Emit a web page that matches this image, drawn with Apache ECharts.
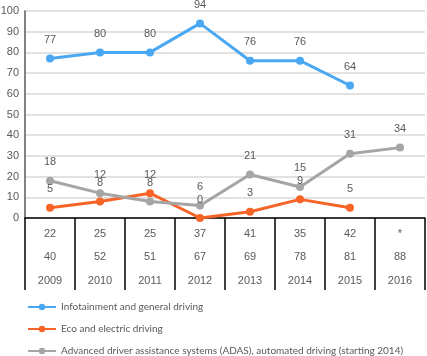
<!DOCTYPE html>
<html>
<head>
<meta charset="utf-8">
<script src="https://cdn.jsdelivr.net/npm/echarts@6/dist/echarts.min.js"></script>
<style>
  html, body { margin: 0; padding: 0; background: #fff; }
  #chart { width: 427px; height: 356px; }
</style>
</head>
<body>
<div id="chart"></div>
<script>
var years = ['2009', '2010', '2011', '2012', '2013', '2014', '2015', '2016'];
var row1 = ['22', '25', '25', '37', '41', '35', '42', '*'];
var row2 = ['40', '52', '51', '67', '69', '78', '81', '88'];
var infotainment = [77, 80, 80, 94, 76, 76, 64, '-'];
var eco = [5, 8, 12, 0, 3, 9, 5, '-'];
var adas = [18, 12, 8, 6, 21, 15, 31, 34];
var seriesNames = [
    'Infotainment and general driving',
    'Eco and electric driving',
    'Advanced driver assistance systems (ADAS), automated driving (starting 2014)'
];
var colors = ['#4aa8f3', '#f76428', '#a5a5a5'];
var textColor = '#595959';
var font = 'Liberation Sans';
var legendFont = 'Lato';

var chart = echarts.init(document.getElementById('chart'));

function lineSeries(name, data, color) {
    return {
        name: name,
        type: 'line',
        data: data,
        symbol: 'circle',
        symbolSize: 8,
        lineStyle: { color: color, width: 3 },
        itemStyle: { color: color },
        label: {
            show: true,
            position: 'top',
            distance: 9,
            color: textColor,
            fontSize: 11,
            fontFamily: font
        }
    };
}

function legendRow(i) {
    return {
        orient: 'vertical',
        left: 27,
        top: 302 + i * 22,
        padding: 0,
        itemWidth: 28,
        itemHeight: 8,
        itemGap: 0,
        textStyle: { color: textColor, fontSize: 10, fontFamily: legendFont },
        data: [seriesNames[i]]
    };
}

var option = {
    animation: false,
    grid: { left: 25, right: 2, top: 11, bottom: 138, outerBoundsMode: 'none' },
    legend: [legendRow(0), legendRow(1), legendRow(2)],
    xAxis: {
        type: 'category',
        data: years,
        boundaryGap: true,
        axisLine: { lineStyle: { color: '#000', width: 1.5 } },
        axisTick: { show: true, interval: 0, length: 72, lineStyle: { color: '#000', width: 1.5 } },
        axisLabel: {
            margin: 4,
            interval: 0,
            lineHeight: 23.5,
            color: textColor,
            fontSize: 11,
            fontFamily: font,
            formatter: function (val, idx) {
                return row1[idx] + '\n' + row2[idx] + '\n' + val;
            }
        }
    },
    yAxis: {
        type: 'value',
        min: 0,
        max: 100,
        interval: 10,
        axisLine: { show: true, lineStyle: { color: '#595959', width: 1.5 } },
        axisTick: { show: false },
        axisLabel: { color: textColor, fontSize: 11, fontFamily: font, margin: 6 },
        splitLine: { lineStyle: { color: '#d9d9d9', width: 1.5 } }
    },
    series: [
        lineSeries(seriesNames[0], infotainment, colors[0]),
        lineSeries(seriesNames[1], eco, colors[1]),
        lineSeries(seriesNames[2], adas, colors[2])
    ]
};
chart.setOption(option);
</script>
</body>
</html>
